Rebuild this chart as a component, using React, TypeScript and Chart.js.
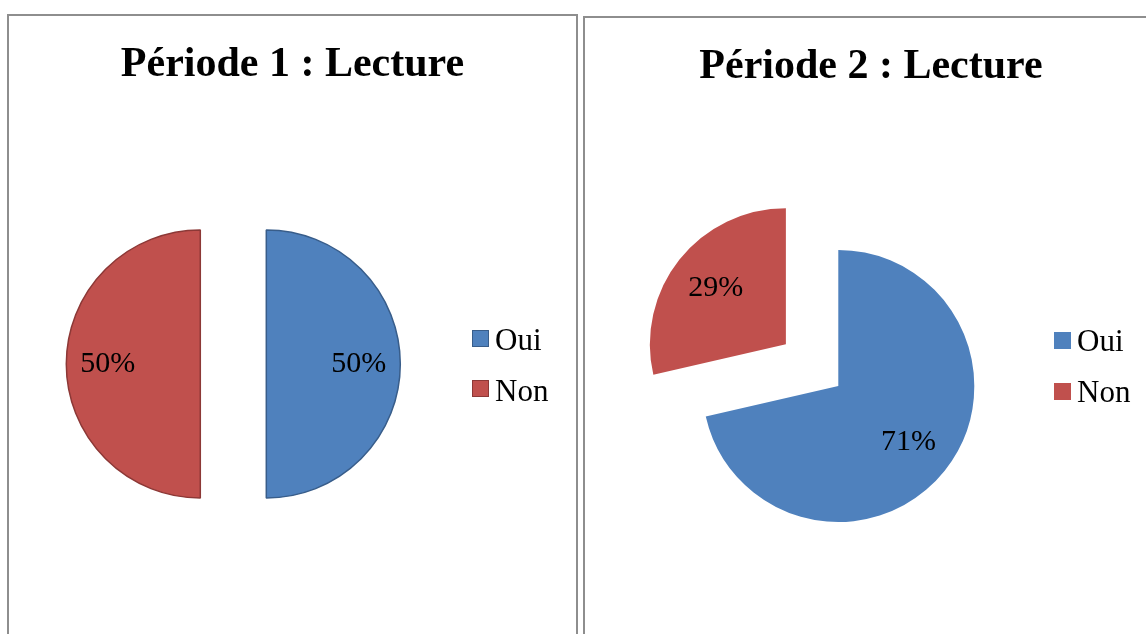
import React, { useEffect, useRef } from "react";
import { Chart, registerables } from "chart.js";

Chart.register(...registerables);

// ---- data ----
const CATEGORIES = ["Oui", "Non"];
const PERIOD1_VALUES = [50, 50];
const PERIOD2_VALUES = [71.4, 28.6];
const TITLES = ["Période 1 : Lecture", "Période 2 : Lecture"];

// ---- styles ----
const FILL = ["#4f81bd", "#c0504d"];
const EDGE = ["#385d8a", "#8c3836"];
const SERIF = '"Liberation Serif", "Times New Roman", Times, serif';
const PANEL_BORDER = "#8e8e8e";

type Pad = { left: number; right: number; top: number; bottom: number };

interface PanelSpec {
  title: string;
  values: number[];
  panel: { left: number; top: number; width: number; height: number };
  canvas: { left: number; top: number; width: number; height: number };
  padding: Pad;
  radius: number;
  explode: number[];
  bordered: boolean;
  labelRatio: number;
  titleTop: number;
  legendBoxLeft: number;
  legendBoxTop: number;
  legendBoxStep: number;
  legendTextLeft: number;
  legendTextTop: number;
  legendTextStep: number;
}

const PANELS: PanelSpec[] = [
  {
    title: TITLES[0],
    values: PERIOD1_VALUES,
    panel: { left: 7, top: 14, width: 571, height: 700 },
    canvas: { left: 9, top: 16, width: 567, height: 618 },
    padding: { left: 0, right: 118.4, top: 78, bottom: 0 },
    radius: 134,
    explode: [33, 33],
    bordered: true,
    labelRatio: 0.69,
    titleTop: 41,
    legendBoxLeft: 472,
    legendBoxTop: 330,
    legendBoxStep: 50,
    legendTextLeft: 495,
    legendTextTop: 324,
    legendTextStep: 51,
  },
  {
    title: TITLES[1],
    values: PERIOD2_VALUES,
    panel: { left: 583, top: 16, width: 576, height: 700 },
    canvas: { left: 585, top: 18, width: 561, height: 616 },
    padding: { left: 0, right: 54.4, top: 120, bottom: 0 },
    radius: 136,
    explode: [0, 67],
    bordered: false,
    labelRatio: 0.66,
    titleTop: 43,
    legendBoxLeft: 1054,
    legendBoxTop: 332,
    legendBoxStep: 51,
    legendTextLeft: 1077,
    legendTextTop: 325,
    legendTextStep: 51,
  },
];

function PiePanel({ spec }: { spec: PanelSpec }) {
  const ref = useRef<HTMLCanvasElement | null>(null);

  useEffect(() => {
    if (!ref.current) return;
    const explodePlugin = {
      id: "explodeSlices",
      afterDatasetUpdate(chart: any, args: any) {
        const meta = chart.getDatasetMeta(args.index);
        meta.data.forEach((arc: any, i: number) => {
          const d = spec.explode[i] || 0;
          const mid = (arc.startAngle + arc.endAngle) / 2;
          arc.x += Math.cos(mid) * d;
          arc.y += Math.sin(mid) * d;
        });
      },
    };
    const labelPlugin = {
      id: "sliceLabels",
      afterDatasetsDraw(chart: any) {
        const ctx = chart.ctx as CanvasRenderingContext2D;
        const meta = chart.getDatasetMeta(0);
        const vals = chart.data.datasets[0].data as number[];
        const total = vals.reduce((a, b) => a + b, 0);
        ctx.save();
        ctx.font = `30px ${SERIF}`;
        ctx.fillStyle = "#000000";
        ctx.textAlign = "center";
        ctx.textBaseline = "middle";
        meta.data.forEach((arc: any, i: number) => {
          const mid = (arc.startAngle + arc.endAngle) / 2;
          const r = arc.outerRadius * spec.labelRatio;
          const txt = Math.round((vals[i] / total) * 100) + "%";
          ctx.fillText(txt, arc.x + Math.cos(mid) * r, arc.y + Math.sin(mid) * r);
        });
        ctx.restore();
      },
    };
    const chart = new Chart(ref.current, {
      type: "pie",
      data: {
        labels: CATEGORIES,
        datasets: [
          {
            data: spec.values,
            backgroundColor: FILL,
            borderColor: spec.bordered ? EDGE : FILL,
            borderWidth: spec.bordered ? 1.5 : 0,
          },
        ],
      },
      options: {
        responsive: false,
        animation: false,
        events: [],
        radius: spec.radius,
        layout: { padding: spec.padding },
        plugins: {
          legend: { display: false },
          tooltip: { enabled: false },
          title: { display: false },
        },
      } as any,
      plugins: [explodePlugin, labelPlugin],
    });
    return () => chart.destroy();
  }, [spec]);

  const p = spec.panel;
  const c = spec.canvas;
  return (
    <>
      <div
        style={{
          position: "absolute",
          left: p.left,
          top: p.top,
          width: p.width,
          height: p.height,
          boxSizing: "border-box",
          border: `2px solid ${PANEL_BORDER}`,
          background: "#ffffff",
        }}
      />
      <canvas
        ref={ref}
        width={c.width}
        height={c.height}
        style={{
          position: "absolute",
          left: c.left,
          top: c.top,
          width: c.width,
          height: c.height,
          display: "block",
        }}
      />
      <div
        style={{
          position: "absolute",
          left: p.left,
          top: spec.titleTop,
          width: p.width,
          textAlign: "center",
          fontFamily: SERIF,
          fontWeight: "bold",
          fontSize: 42,
          lineHeight: "42px",
          whiteSpace: "nowrap",
          color: "#000",
        }}
      >
        {spec.title}
      </div>
      {CATEGORIES.map((cat, i) => (
        <React.Fragment key={cat}>
          <div
            style={{
              position: "absolute",
              left: spec.legendBoxLeft,
              top: spec.legendBoxTop + i * spec.legendBoxStep,
              width: 17,
              height: 17,
              boxSizing: "border-box",
              background: FILL[i],
              border: spec.bordered ? `1px solid ${EDGE[i]}` : "none",
            }}
          />
          <div
            style={{
              position: "absolute",
              left: spec.legendTextLeft,
              top: spec.legendTextTop + i * spec.legendTextStep,
              fontFamily: SERIF,
              fontSize: 31,
              lineHeight: "31px",
              whiteSpace: "nowrap",
              color: "#000",
            }}
          >
            {cat}
          </div>
        </React.Fragment>
      ))}
    </>
  );
}

export default function App() {
  return (
    <div
      style={{
        position: "fixed",
        left: 0,
        top: 0,
        width: 1146,
        height: 634,
        overflow: "hidden",
        background: "#ffffff",
      }}
    >
      {PANELS.map((s) => (
        <PiePanel key={s.title} spec={s} />
      ))}
    </div>
  );
}
